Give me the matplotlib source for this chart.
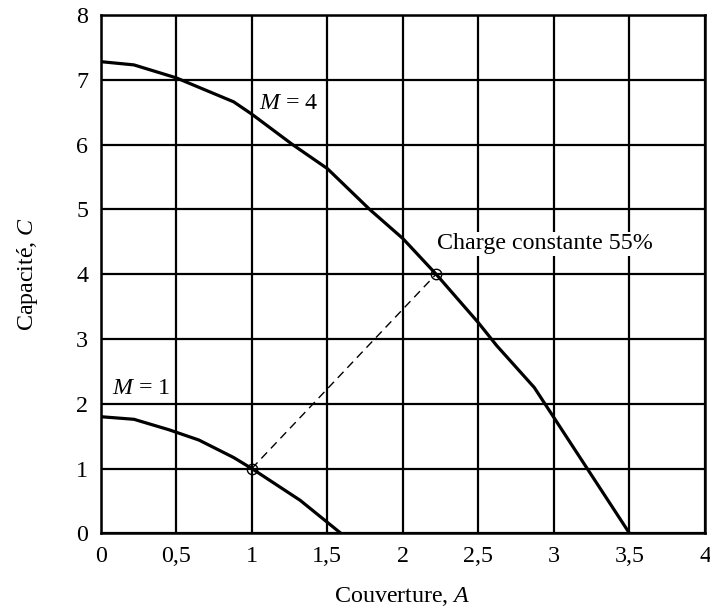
import matplotlib
matplotlib.use("Agg")
import matplotlib.pyplot as plt
from matplotlib.ticker import MultipleLocator, FuncFormatter

plt.rcParams['font.family'] = ['Liberation Serif', 'DejaVu Serif']
plt.rcParams['mathtext.fontset'] = 'custom'
plt.rcParams['mathtext.rm'] = 'Liberation Serif'
plt.rcParams['mathtext.it'] = 'Liberation Serif:italic'

# Data
m4_a = [0.0, 0.22, 0.50, 0.88, 1.00, 1.27, 1.50, 1.78, 2.00, 2.22, 2.50, 2.62, 2.87, 3.50]
m4_c = [7.28, 7.23, 7.03, 6.66, 6.47, 6.00, 5.63, 5.00, 4.55, 4.00, 3.25, 2.90, 2.25, 0.0]
m1_a = [0.0, 0.22, 0.45, 0.65, 0.88, 1.00, 1.32, 1.59]
m1_c = [1.80, 1.76, 1.60, 1.44, 1.17, 1.00, 0.51, 0.0]
load_a = [1.00, 2.22]
load_c = [1.00, 4.00]

label_m4 = "$M$ = 4"
label_m1 = "$M$ = 1"
label_load = "Charge constante 55%"
xlabel = "Couverture, $A$"
ylabel = "Capacité, $C$"

FS = 17.3

fig = plt.figure(figsize=(7.1, 6.1), dpi=100)
ax = fig.add_axes([0.1418, 0.1257, 0.993 - 0.1418, 0.9754 - 0.1257])

ax.plot(m4_a, m4_c, color='black', lw=2.3, solid_joinstyle='round', zorder=3)
ax.plot(m1_a, m1_c, color='black', lw=2.3, solid_joinstyle='round', zorder=3)
ax.plot(load_a, load_c, color='black', lw=1.0, linestyle=(0, (6, 4)), zorder=3)
ax.plot(load_a, load_c, linestyle='none', marker='o', markersize=7.5,
        markerfacecolor='none', markeredgecolor='black', markeredgewidth=1.0, zorder=4)

ax.text(1.05, 6.64, label_m4, fontsize=FS, va='center', ha='left',
        bbox=dict(facecolor='white', edgecolor='none', pad=1), zorder=5)
ax.text(0.073, 2.23, label_m1, fontsize=FS, va='center', ha='left',
        bbox=dict(facecolor='white', edgecolor='none', pad=1), zorder=5)
ax.text(2.226, 4.47, label_load, fontsize=FS, va='center', ha='left',
        bbox=dict(facecolor='white', edgecolor='none', pad=1), zorder=5)

ax.set_xlim(0, 4)
ax.set_ylim(0, 8)
ax.xaxis.set_major_locator(MultipleLocator(0.5))
ax.yaxis.set_major_locator(MultipleLocator(1))
ax.xaxis.set_major_formatter(FuncFormatter(lambda v, p: ('%g' % v).replace('.', ',')))
ax.yaxis.set_major_formatter(FuncFormatter(lambda v, p: '%g' % v))
ax.grid(True, color='black', lw=1.6)
ax.set_axisbelow(True)
ax.tick_params(length=0, labelsize=FS, pad=9)
for s in ax.spines.values():
    s.set_linewidth(1.8)

ax.set_xlabel(xlabel, fontsize=FS, labelpad=13)
ax.set_ylabel(ylabel, fontsize=FS, labelpad=26)

fig.savefig("out.png", dpi=100)
